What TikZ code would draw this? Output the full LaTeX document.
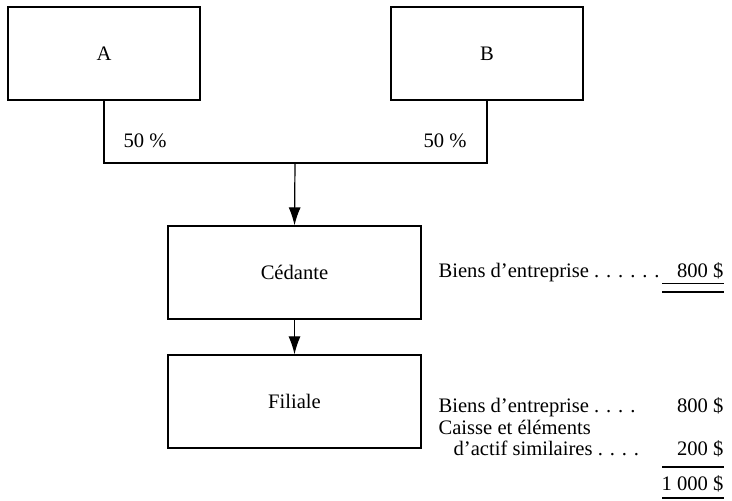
\documentclass[tikz,border=0pt]{standalone}
\usepackage{fontspec}
\setmainfont{Liberation Serif}
\usetikzlibrary{arrows.meta}
\begin{document}
\begin{tikzpicture}[x=0.5pt,y=-0.5pt,
  font=\fontsize{10.3}{12.4}\selectfont,
  line width=0.6pt,
  entity/.style={draw, minimum height=46.5pt, inner sep=0pt},
  owner/.style={entity, minimum width=96pt},
  corp/.style={entity, minimum width=126.5pt},
  flow/.style={-{Latex[length=9pt,width=6pt]}},
  txt/.style={inner sep=0pt, anchor=base west},
  amt/.style={inner sep=0pt, anchor=base east},
  rule/.style={line width=0.6pt}]
\useasboundingbox (0,0) rectangle (732,501);

% shareholders
\node[owner] (A) at (104,53.5) {A};
\node[owner] (B) at (487,53.5) {B};
\coordinate (join) at (295,163);
\draw (A.south) |- (join) -| (B.south);
\node[txt] (pa) at (123,148) {50 \%};
\node[txt] (pb) at (423,148) {50 \%};

% corporations
\node[corp] (ced) at (294.5,272.5) {Cédante};
\node[corp] (fil) at (294.5,401.5) {Filiale};
\draw[flow] (join) -- (ced.north);
\draw[flow] (ced.south) -- (fil.north);

% balance of the transferor
\node[txt] (c1) at (438,278) {Biens d’entreprise . . . . . .};
\node[amt] (c1v) at (724,278) {800 \$};
\coordinate (u1a) at (662,283.5);
\coordinate (u1b) at (724,283.5);
\coordinate (u2a) at (662,292);
\coordinate (u2b) at (724,292);
\draw[rule] (u1a) -- (u1b);
\draw[rule] (u2a) -- (u2b);

% balance of the subsidiary
\node[txt] (f1) at (438,413) {Biens d’entreprise . . . .};
\node[amt] (f1v) at (724,413) {800 \$};
\node[txt] (f2) at (438,434) {Caisse et éléments};
\node[txt] (f3) at (453,455) {d’actif similaires . . . .};
\node[amt] (f3v) at (724,455) {200 \$};
\coordinate (s1a) at (662,467);
\coordinate (s1b) at (724,467);
\draw[rule] (s1a) -- (s1b);
\node[amt] (tot) at (724,490) {1 000 \$};
\coordinate (s2a) at (662,498);
\coordinate (s2b) at (724,498);
\draw[rule] (s2a) -- (s2b);
\end{tikzpicture}
\end{document}
